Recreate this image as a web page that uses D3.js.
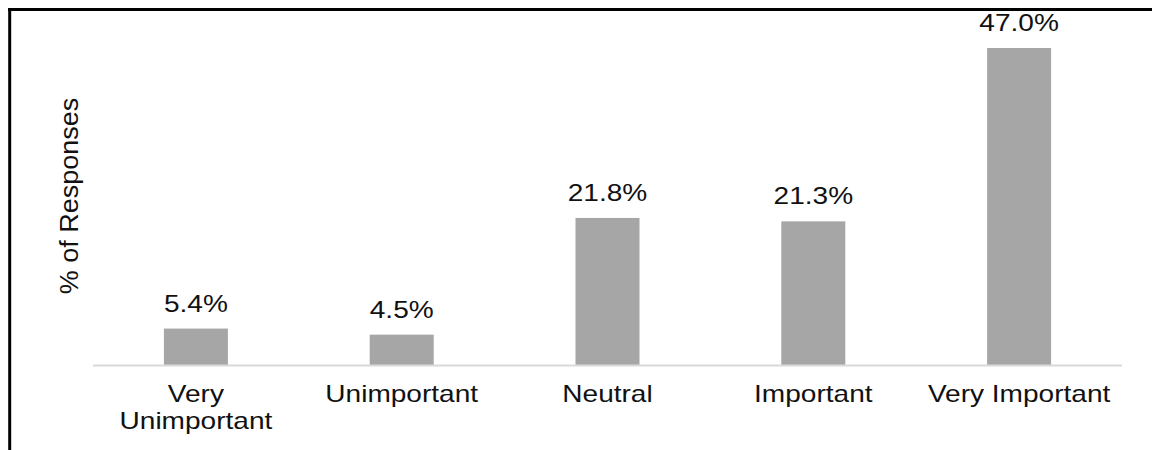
<!DOCTYPE html>
<html>
<head>
<meta charset="utf-8">
<script src="https://cdn.jsdelivr.net/npm/d3@7"></script>
<style>
  body { margin: 0; background: #fff; }
  svg text { font-family: "Liberation Sans", Arial, sans-serif; fill: #111; }
</style>
</head>
<body>
<div id="chart"></div>
<script>
// importance ratings, % of responses
const categories = ["Very\nUnimportant", "Unimportant", "Neutral", "Important", "Very Important"];
const values = [5.4, 4.5, 21.8, 21.3, 47.0];
const valueLabels = ["5.4%", "4.5%", "21.8%", "21.3%", "47.0%"];

const W = 1152, H = 450;
const margin = { top: 48, right: 30, bottom: 85, left: 93 };
const baseY = 365;

const svg = d3.select("#chart").append("svg")
  .attr("width", W)
  .attr("height", H);

const x = d3.scaleBand()
  .domain(categories)
  .range([margin.left, 1122])
  .paddingInner(0.689)
  .paddingOuter(0.3445);

const y = d3.scaleLinear().domain([0, 47.0]).range([baseY, 48]);

// frame: only top and left edges show
svg.append("line").attr("x1", 8).attr("x2", W).attr("y1", 9.5).attr("y2", 9.5)
  .attr("stroke", "#000").attr("stroke-width", 3);
svg.append("line").attr("x1", 9.7).attr("x2", 9.7).attr("y1", 8).attr("y2", H)
  .attr("stroke", "#000").attr("stroke-width", 3);

svg.selectAll("rect.bar").data(values).join("rect")
  .attr("class", "bar")
  .attr("x", (d, i) => x(categories[i]))
  .attr("y", d => y(d))
  .attr("width", x.bandwidth())
  .attr("height", d => baseY - y(d))
  .attr("fill", "#a6a6a6");

// baseline
svg.append("line")
  .attr("x1", margin.left).attr("x2", 1122)
  .attr("y1", baseY + 0.5).attr("y2", baseY + 0.5)
  .attr("stroke", "#d9d9d9").attr("stroke-width", 2);

const sx = 1.22;  // text in the picture is stretched sideways

svg.selectAll("text.val").data(values).join("text")
  .attr("class", "val")
  .attr("text-anchor", "middle")
  .attr("font-size", 23)
  .attr("transform", (d, i) =>
    `translate(${x(categories[i]) + x.bandwidth() / 2},${y(d) - 17}) scale(${sx},1)`)
  .text((d, i) => valueLabels[i]);

// category labels, split on newline
const cat = svg.selectAll("text.cat").data(categories).join("text")
  .attr("class", "cat")
  .attr("text-anchor", "middle")
  .attr("font-size", 23)
  .attr("transform", c => `translate(${x(c) + x.bandwidth() / 2},402) scale(${sx},1)`);
cat.selectAll("tspan").data(c => c.split("\n")).join("tspan")
  .attr("x", 0)
  .attr("dy", (d, i) => i === 0 ? 0 : 27.5)
  .text(d => d);

svg.append("text")
  .attr("text-anchor", "middle")
  .attr("font-size", 25)
  .attr("transform", "translate(78,196) rotate(-90) scale(1.08,1)")
  .text("% of Responses");
</script>
</body>
</html>
